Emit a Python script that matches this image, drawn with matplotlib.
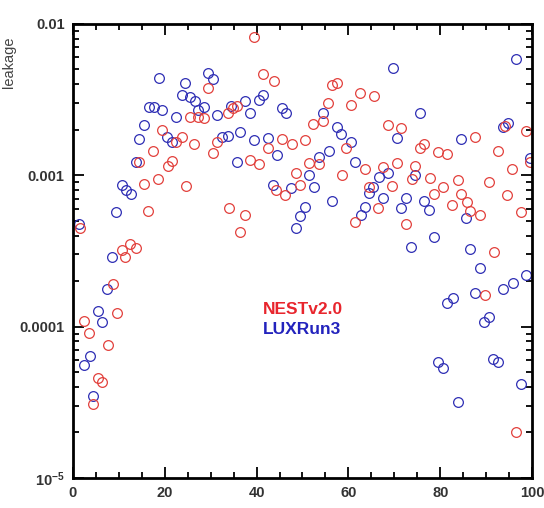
import matplotlib
matplotlib.use('Agg')
import matplotlib.pyplot as plt
from matplotlib.ticker import FixedLocator, MultipleLocator, NullFormatter

plt.rcParams['font.family'] = ['Liberation Sans', 'DejaVu Sans']
plt.rcParams['mathtext.fontset'] = 'custom'
plt.rcParams['mathtext.rm'] = 'Liberation Sans'
plt.rcParams['mathtext.bf'] = 'Liberation Sans:bold'

# NESTv2.0 (red)
nest_x = [1.5, 2.4, 3.5, 4.4, 5.4, 6.3, 7.6, 8.7, 9.6, 10.7,
          11.3, 12.4, 13.7, 14.4, 15.5, 16.3, 17.4, 18.5, 19.4, 20.7,
          21.6, 22.4, 23.7, 24.6, 25.5, 26.4, 27.2, 28.5, 29.4, 30.5,
          31.4, 33.8, 34.9, 35.7, 34.0, 37.5, 36.4, 38.6, 39.4, 40.5,
          41.4, 42.5, 43.8, 44.2, 45.5, 46.2, 47.7, 48.6, 49.5, 50.5,
          51.4, 52.3, 53.6, 54.5, 55.6, 56.4, 57.5, 58.6, 59.5, 60.6,
          61.4, 62.5, 63.6, 64.5, 65.6, 66.4, 67.5, 68.6, 69.5, 70.6,
          71.5, 72.5, 73.9, 74.5, 75.6, 76.5, 77.8, 78.6, 79.5, 80.6,
          81.5, 82.6, 83.9, 84.5, 85.8, 86.5, 87.6, 88.7, 89.8, 90.6,
          91.7, 92.6, 94.1, 94.6, 95.6, 96.5, 97.6, 98.7, 99.6]
nest_y = [4.5e-4, 1.09e-4, 9.1e-5, 3.1e-5, 4.6e-5, 4.3e-5, 7.6e-5, 1.9e-4, 1.23e-4, 3.2e-4,
          2.9e-4, 3.5e-4, 3.3e-4, 1.22e-3, 8.8e-4, 5.8e-4, 1.45e-3, 9.5e-4, 2.0e-3, 1.15e-3,
          1.24e-3, 1.66e-3, 1.79e-3, 8.5e-4, 2.43e-3, 1.62e-3, 2.43e-3, 2.4e-3, 3.78e-3, 1.4e-3,
          1.66e-3, 2.58e-3, 2.8e-3, 2.87e-3, 6.1e-4, 5.5e-4, 4.2e-4, 1.26e-3, 8.2e-3, 1.19e-3,
          4.68e-3, 1.51e-3, 4.2e-3, 8.0e-4, 1.74e-3, 7.4e-4, 1.61e-3, 1.03e-3, 8.6e-4, 1.71e-3,
          1.2e-3, 2.19e-3, 1.19e-3, 2.3e-3, 3.0e-3, 3.95e-3, 4.07e-3, 1.0e-3, 1.51e-3, 2.92e-3,
          4.9e-4, 3.5e-3, 1.1e-3, 8.4e-4, 3.34e-3, 6.1e-4, 1.13e-3, 2.15e-3, 8.5e-4, 1.2e-3,
          2.06e-3, 4.8e-4, 9.5e-4, 1.15e-3, 1.51e-3, 1.6e-3, 9.6e-4, 7.5e-4, 1.43e-3, 8.4e-4,
          1.38e-3, 6.4e-4, 9.3e-4, 7.5e-4, 6.7e-4, 5.8e-4, 1.79e-3, 5.5e-4, 1.62e-4, 9.0e-4,
          3.1e-4, 1.45e-3, 2.12e-3, 7.4e-4, 1.1e-3, 2.0e-5, 5.7e-4, 1.96e-3, 1.22e-3]

# LUXRun3 (blue)
lux_x = [1.3, 2.4, 3.7, 4.4, 5.4, 6.3, 7.4, 8.5, 9.4, 10.7,
         11.5, 12.6, 13.7, 14.4, 15.5, 16.6, 17.6, 18.7, 19.4, 20.5,
         21.6, 22.4, 23.7, 24.4, 25.5, 26.6, 27.2, 28.5, 29.4, 30.5,
         31.4, 32.5, 33.8, 34.4, 36.4, 35.7, 37.5, 38.6, 39.4, 40.5,
         41.4, 42.5, 43.6, 44.4, 45.5, 46.4, 47.5, 48.6, 49.5, 50.5,
         51.4, 52.5, 53.6, 54.5, 55.8, 56.4, 57.5, 58.4, 60.6, 61.4,
         62.7, 63.6, 64.5, 65.4, 66.7, 67.5, 68.6, 69.7, 70.6, 71.5,
         72.5, 73.6, 74.5, 75.6, 76.5, 77.6, 78.6, 79.5, 80.6, 81.5,
         82.8, 83.9, 84.5, 85.6, 86.5, 87.6, 88.7, 89.5, 90.6, 91.5,
         92.6, 93.7, 93.6, 94.8, 95.8, 96.5, 97.6, 98.7, 99.6]
lux_y = [4.77e-4, 5.6e-5, 6.4e-5, 3.5e-5, 1.27e-4, 1.07e-4, 1.78e-4, 2.88e-4, 5.7e-4, 8.6e-4,
         8.0e-4, 7.5e-4, 1.22e-3, 1.74e-3, 2.15e-3, 2.82e-3, 2.82e-3, 4.4e-3, 2.7e-3, 1.79e-3,
         1.66e-3, 2.43e-3, 3.39e-3, 4.07e-3, 3.29e-3, 3.09e-3, 2.7e-3, 2.82e-3, 4.74e-3, 4.33e-3,
         2.5e-3, 1.79e-3, 1.82e-3, 2.87e-3, 1.93e-3, 1.22e-3, 3.09e-3, 2.58e-3, 1.71e-3, 3.15e-3,
         3.39e-3, 1.77e-3, 8.6e-4, 1.36e-3, 2.78e-3, 2.58e-3, 8.2e-4, 4.5e-4, 5.4e-4, 6.2e-4,
         1.0e-3, 8.4e-4, 1.32e-3, 2.58e-3, 1.45e-3, 6.8e-4, 2.09e-3, 1.87e-3, 1.66e-3, 1.22e-3,
         5.5e-4, 6.2e-4, 7.6e-4, 8.4e-4, 9.8e-4, 7.1e-4, 1.03e-3, 5.1e-3, 1.77e-3, 6.1e-4,
         7.1e-4, 3.36e-4, 1.0e-3, 2.58e-3, 6.8e-4, 5.9e-4, 3.9e-4, 5.8e-5, 5.3e-5, 1.43e-4,
         1.55e-4, 3.2e-5, 1.74e-3, 5.2e-4, 3.26e-4, 1.67e-4, 2.44e-4, 1.07e-4, 1.16e-4, 6.1e-5,
         5.8e-5, 1.78e-4, 2.09e-3, 2.22e-3, 1.95e-4, 5.9e-3, 4.2e-5, 2.19e-4, 1.3e-3]

y_ticks = [1e-5, 1e-4, 1e-3, 1e-2]
y_tick_labels = [r'$\mathbf{10^{-5}}$', '0.0001', '0.001', '0.01']

red = '#e2403c'
blue = '#2e2eb4'

fig = plt.figure(figsize=(5.44, 5.08), dpi=100)
ax = fig.add_axes([0.134, 0.059, 0.844, 0.894])

ax.plot(lux_x, lux_y, 'o', mfc='none', mec=blue, ms=7, mew=0.9)
ax.plot(nest_x, nest_y, 'o', mfc='none', mec=red, ms=7, mew=0.9)

ax.set_yscale('log')
ax.set_xlim(0, 100)
ax.set_ylim(1e-5, 1e-2)

ax.xaxis.set_major_locator(MultipleLocator(20))
ax.xaxis.set_minor_locator(MultipleLocator(5))
ax.yaxis.set_major_locator(FixedLocator(y_ticks))
ax.set_yticklabels(y_tick_labels)
ax.yaxis.set_minor_formatter(NullFormatter())

ax.tick_params(which='both', direction='in', top=True, right=True, width=1.3, colors='black',
               labelcolor='#333333', labelsize=10.5)
ax.tick_params(which='major', length=8)
ax.tick_params(which='minor', length=4.5)
ax.tick_params(axis='x', pad=6)
ax.tick_params(axis='y', pad=6)
for lbl in ax.get_xticklabels() + ax.get_yticklabels():
    lbl.set_fontweight('bold')
for sp in ax.spines.values():
    sp.set_linewidth(2)

fig.text(9 / 544, 1 - 62 / 508, 'leakage', rotation=90, ha='center', va='center',
         fontsize=10.5, color='#444444')

ax.text(0.414, 0.37, 'NESTv2.0', transform=ax.transAxes, color='#e8252d',
        fontsize=12.5, fontweight='bold', ha='left', va='center')
ax.text(0.414, 0.326, 'LUXRun3', transform=ax.transAxes, color='#2323bd',
        fontsize=12.5, fontweight='bold', ha='left', va='center')

plt.savefig('out.png', dpi=100)
